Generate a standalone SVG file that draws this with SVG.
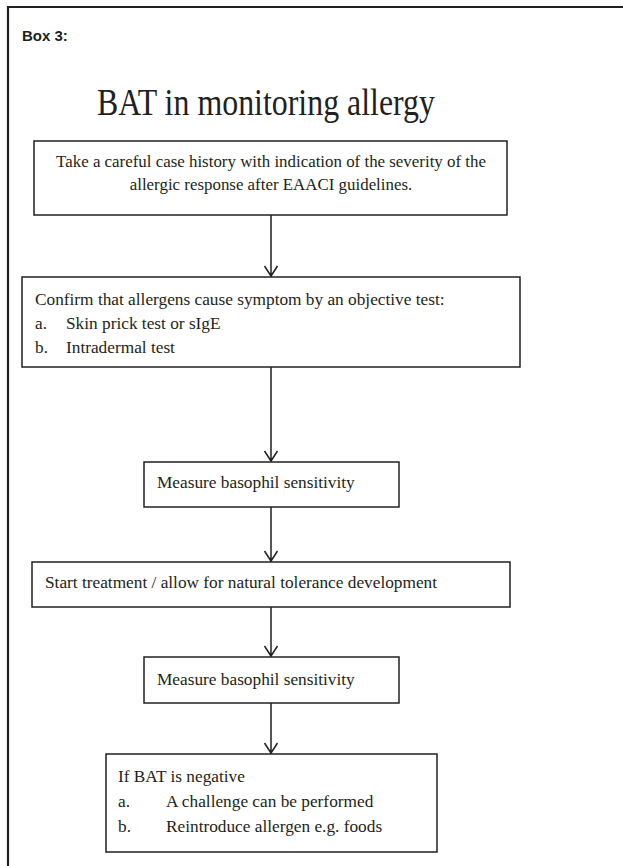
<svg xmlns="http://www.w3.org/2000/svg" width="623" height="866" viewBox="0 0 623 866">
<style>
.box{fill:#fff;stroke:#231f20;stroke-width:1.5}
.t{font-family:"Liberation Serif","Times New Roman",serif;font-size:17.3px;fill:#231f20}
.s{font-size:16.9px}
.c{stroke:#231f20;stroke-width:1.5;fill:none}
</style>
<rect width="623" height="866" fill="#fff"/>
<path d="M8,866 V7 H623" fill="none" stroke="#231f20" stroke-width="2.2"/>
<text x="22" y="41" font-family="Liberation Sans,Arial,sans-serif" font-weight="bold" font-size="15" fill="#231f20">Box 3:</text>
<text x="97" y="115" textLength="338" lengthAdjust="spacingAndGlyphs" font-family="Liberation Serif,Times New Roman,serif" font-size="38" fill="#231f20">BAT in monitoring allergy</text>
<g id="connectors">
<path class="c" d="M271,215 V277 M264.5,266 L271,276 L277.5,266"/>
<path class="c" d="M271,367 V462 M264.5,451 L271,461 L277.5,451"/>
<path class="c" d="M271,507 V562 M264.5,551 L271,561 L277.5,551"/>
<path class="c" d="M271,607 V657 M264.5,646 L271,656 L277.5,646"/>
<path class="c" d="M271,703 V754 M264.5,743 L271,753 L277.5,743"/>
</g>
<g id="n1">
<rect class="box" x="34" y="141" width="473" height="74"/>
<text class="t s" x="271" y="167" text-anchor="middle">Take a careful case history with indication of the severity of the</text>
<text class="t s" x="271" y="190" text-anchor="middle">allergic response after EAACI guidelines.</text>
</g>
<g id="n2">
<rect class="box" x="22" y="277" width="498" height="90"/>
<text class="t" x="35" y="305">Confirm that allergens cause symptom by an objective test:</text>
<text class="t" x="35" y="329">a.</text><text class="t" x="66" y="329">Skin prick test or sIgE</text>
<text class="t" x="35" y="353">b.</text><text class="t" x="66" y="353">Intradermal test</text>
</g>
<g id="n3">
<rect class="box" x="144" y="462" width="255" height="45"/>
<text class="t" x="157" y="488">Measure basophil sensitivity</text>
</g>
<g id="n4">
<rect class="box" x="32" y="562" width="478" height="45"/>
<text class="t" x="45" y="588">Start treatment / allow for natural tolerance development</text>
</g>
<g id="n5">
<rect class="box" x="144" y="657" width="255" height="46"/>
<text class="t" x="157" y="685">Measure basophil sensitivity</text>
</g>
<g id="n6">
<rect class="box" x="106" y="754" width="331" height="98"/>
<text class="t" x="118" y="782">If BAT is negative</text>
<text class="t" x="118" y="807">a.</text><text class="t" x="166" y="807">A challenge can be performed</text>
<text class="t" x="118" y="832">b.</text><text class="t" x="166" y="832">Reintroduce allergen e.g. foods</text>
</g>
</svg>
